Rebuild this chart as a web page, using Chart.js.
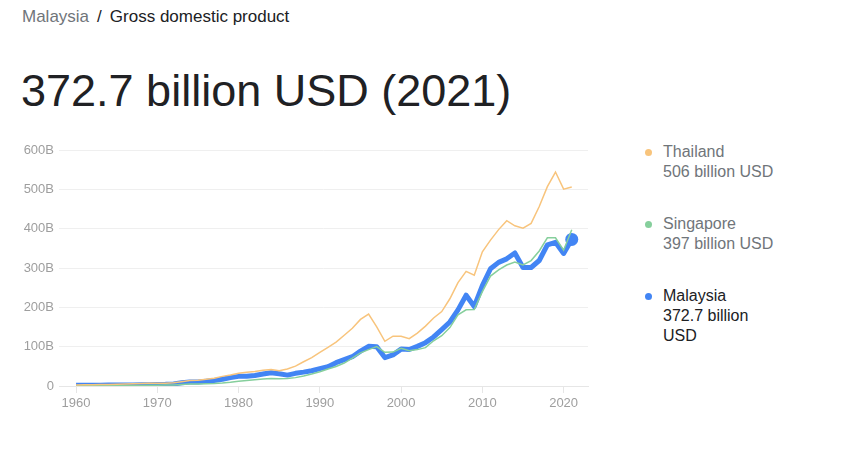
<!DOCTYPE html>
<html lang="en">
<head>
    <meta charset="UTF-8">
    <title>Malaysia GDP</title>
    <style type="text/css">
        body {
            margin: 0;
            width: 868px;
            height: 467px;
            background: #fff;
            font-family: Arial, "Liberation Sans", sans-serif;
            position: relative;
            overflow: hidden;
        }
        .crumb {
            position: absolute;
            left: 22px;
            top: 8px;
            font-size: 17px;
            line-height: 1;
            color: #202124;
        }
        .crumb .parent { color: #70757a; }
        .crumb .sep { margin: 0 8px 0 8px; }
        .title {
            position: absolute;
            left: 21px;
            top: 68px;
            font-size: 45px;
            line-height: 1;
            color: #202124;
        }
        .chartBox {
            position: absolute;
            left: 0;
            top: 130px;
            width: 600px;
            height: 290px;
        }
        .legend {
            position: absolute;
            left: 663px;
            top: 142px;
            width: 118px;
            font-size: 16px;
            line-height: 20px;
        }
        .legend .item {
            position: relative;
            margin-bottom: 32px;
            color: #70757a;
        }
        .legend .item.active { color: #202124; }
        .legend .dot {
            position: absolute;
            left: -18px;
            top: 7px;
            width: 7px;
            height: 7px;
            border-radius: 50%;
        }
    </style>
</head>
<body>
    <div class="crumb"><span class="parent">Malaysia</span><span class="sep">/</span>Gross domestic product</div>
    <div class="title">372.7 billion USD (2021)</div>

    <div class="chartBox">
        <canvas id="myChart"></canvas>
    </div>

    <div class="legend" id="legend"></div>

    <script src="https://cdn.jsdelivr.net/npm/chart.js"></script>

    <script>
    // values in billion USD
    const years = [
        1960, 1961, 1962, 1963, 1964, 1965, 1966, 1967, 1968, 1969,
        1970, 1971, 1972, 1973, 1974, 1975, 1976, 1977, 1978, 1979,
        1980, 1981, 1982, 1983, 1984, 1985, 1986, 1987, 1988, 1989,
        1990, 1991, 1992, 1993, 1994, 1995, 1996, 1997, 1998, 1999,
        2000, 2001, 2002, 2003, 2004, 2005, 2006, 2007, 2008, 2009,
        2010, 2011, 2012, 2013, 2014, 2015, 2016, 2017, 2018, 2019,
        2020, 2021
    ];

    const thailand = [
        2.8, 3.0, 3.3, 3.5, 3.9, 4.4, 5.3, 5.6, 6.1, 6.7,
        7.1, 7.3, 8.2, 10.8, 13.7, 14.9, 17.0, 19.8, 24.5, 27.8,
        32.4, 34.8, 36.6, 40.0, 41.8, 38.9, 43.1, 50.5, 61.7, 72.3,
        85.6, 98.2, 111.5, 128.9, 146.7, 169.3, 183.0, 150.2, 113.7, 126.7,
        126.4, 120.3, 134.3, 152.3, 172.9, 189.3, 221.8, 262.9, 291.4, 281.7,
        341.1, 370.8, 397.6, 420.3, 407.3, 401.3, 413.4, 456.4, 506.8, 544.0,
        500.5, 506.0
    ];

    const singapore = [
        0.7, 0.8, 0.8, 0.9, 0.9, 1.0, 1.1, 1.2, 1.4, 1.7,
        1.9, 2.3, 2.7, 3.7, 4.8, 5.2, 5.6, 6.3, 7.5, 9.3,
        11.9, 14.2, 16.1, 17.8, 19.2, 18.6, 18.8, 21.3, 25.5, 30.4,
        36.1, 43.3, 49.7, 58.4, 71.0, 84.3, 92.5, 100.1, 85.7, 86.3,
        96.1, 89.8, 92.5, 97.6, 115.0, 127.8, 148.6, 180.9, 193.6, 194.2,
        239.8, 279.4, 295.1, 307.6, 314.9, 308.0, 318.8, 343.3, 376.9, 376.9,
        345.3, 397.0
    ];

    const malaysia = [
        1.9, 1.9, 2.0, 2.2, 2.4, 2.6, 2.7, 2.8, 2.9, 3.2,
        3.9, 4.2, 5.1, 8.1, 10.0, 9.9, 12.0, 14.1, 17.0, 21.6,
        24.5, 25.0, 26.8, 30.3, 33.9, 31.2, 27.7, 32.2, 35.3, 38.9,
        44.0, 49.1, 59.2, 66.9, 74.5, 88.7, 100.9, 100.0, 72.2, 79.1,
        93.8, 92.8, 100.8, 110.2, 124.7, 143.5, 162.7, 193.5, 230.8, 202.3,
        255.0, 298.0, 314.4, 323.3, 338.1, 301.4, 301.3, 319.1, 358.8, 365.2,
        337.0, 372.7
    ];

    const yTicks = [0, 100, 200, 300, 400, 500, 600];
    const xTicks = [1960, 1970, 1980, 1990, 2000, 2010, 2020];

    const legendItems = [
        { name: 'Thailand', value: '506 billion USD', color: '#f8c47c' },
        { name: 'Singapore', value: '397 billion USD', color: '#86cf9c' },
        { name: 'Malaysia', value: '372.7 billion USD', color: '#4285f4', active: true }
    ];

    const toPoints = arr => arr.map((v, i) => ({ x: years[i], y: v }));
    const lastIdx = years.length - 1;

    Chart.defaults.font.family = 'Arial, "Liberation Sans", sans-serif';

    // setup block
    const data = {
        datasets: [{
            label: 'Thailand',
            data: toPoints(thailand),
            borderColor: '#f8c47c',
            borderWidth: 1.5,
            pointRadius: 0
        },{
            label: 'Singapore',
            data: toPoints(singapore),
            borderColor: '#86cf9c',
            borderWidth: 1.5,
            pointRadius: 0
        },{
            label: 'Malaysia',
            data: toPoints(malaysia),
            borderColor: '#4285f4',
            backgroundColor: '#4285f4',
            borderWidth: 5,
            borderJoinStyle: 'round',
            pointRadius: ctx => ctx.dataIndex === lastIdx ? 6.5 : 0,
            pointBorderWidth: 0
        }]
    };

    // config block
    const config = {
        type: 'line',
        data,
        options: {
            animation: false,
            responsive: true,
            maintainAspectRatio: false,
            layout: {
                padding: { top: 20, right: 12, left: 0, bottom: 0 }
            },
            plugins: {
                legend: { display: false },
                tooltip: { enabled: false }
            },
            scales: {
                x: {
                    type: 'linear',
                    min: 1957.9,
                    max: 2023,
                    afterBuildTicks: scale => {
                        scale.ticks = xTicks.map(v => ({ value: v }));
                    },
                    afterFit: scale => { scale.height = 34; },
                    grid: {
                        drawOnChartArea: false,
                        drawTicks: true,
                        tickLength: 7,
                        color: '#e6e6e6'
                    },
                    border: { display: true, color: '#e6e6e6' },
                    ticks: {
                        padding: 3,
                        color: '#9e9e9e',
                        font: { size: 13 },
                        maxRotation: 0,
                        callback: v => String(v)
                    }
                },
                y: {
                    min: 0,
                    max: 600,
                    afterBuildTicks: scale => {
                        scale.ticks = yTicks.map(v => ({ value: v }));
                    },
                    afterFit: scale => { scale.width = 59; },
                    grid: {
                        drawTicks: false,
                        color: '#efefef'
                    },
                    border: { display: false },
                    ticks: {
                        padding: 5,
                        color: '#9e9e9e',
                        font: { size: 13 },
                        callback: v => v === 0 ? '0' : v + 'B'
                    }
                }
            }
        }
    };

    // render init block
    const myChart = new Chart(
        document.getElementById('myChart'),
        config
    );

    // legend on the right
    const legendBox = document.getElementById('legend');
    legendItems.forEach(item => {
        const div = document.createElement('div');
        div.className = 'item' + (item.active ? ' active' : '');
        div.innerHTML = '<span class="dot" style="background:' + item.color + '"></span>' +
            item.name + '<br>' + item.value;
        legendBox.appendChild(div);
    });
    </script>

</body>
</html>
